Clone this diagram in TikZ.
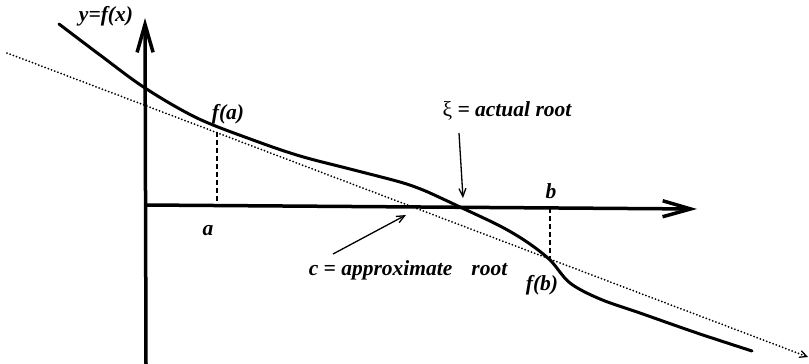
\documentclass[tikz,border=0pt]{standalone}
\usepackage{fontspec}
\setmainfont{Liberation Serif}
\usetikzlibrary{arrows.meta}
\tikzset{
  lbl/.style={font=\fontsize{21.5}{23}\selectfont\bfseries\itshape, inner sep=0pt, anchor=base},
  axis/.style={line width=3.5pt, -{Straight Barb[length=28pt,width=16pt,line width=3.5pt]}},
  curve/.style={line width=3pt, line cap=round},
  secant/.style={line width=2pt, line cap=round, dash pattern=on 0pt off 3.4pt, -{Straight Barb[length=7pt,width=7pt,line width=1.3pt]}},
  guide/.style={line width=1.5pt, dash pattern=on 5pt off 3pt},
  pointer/.style={line width=1.3pt, -{Straight Barb[length=8pt,width=7pt,line width=1.3pt]}}
}
\begin{document}
\begin{tikzpicture}[x=1pt,y=-1pt]
\useasboundingbox (0,0) rectangle (809,364);
% axes
\coordinate (ybot) at (146,364);
\coordinate (ytop) at (145,18);
\coordinate (xleft) at (145,205);
\coordinate (xright) at (697,209);
\draw[axis] (ybot) -- (ytop);
\draw[axis] (xleft) -- (xright);
% secant line
\coordinate (s0) at (7,53);
\coordinate (s1) at (808,357);
\draw[secant] (s0) -- (s1);
% curve
\draw[curve] plot[smooth, tension=0.55] coordinates {
 (59,24) (100,55) (145,88) (197,118) (253,140) (300,156) (350,169)
 (400,182) (423,190) (443,199) (460,207) (500,226) (527,242) (550,260)
 (570,283) (600,299) (640,313) (697,333) (752,351)};
% dashed guides
\coordinate (fa) at (217,132);
\coordinate (ax) at (217,205);
\coordinate (fb) at (550,258);
\coordinate (bx) at (550,208);
\draw[guide] (fa) -- (ax);
\draw[guide] (bx) -- (fb);
% labels
\node[lbl] (ylab) at (106,21) {y=f(x)};
\node[lbl] (falab) at (228,119) {f(a)};
\node[lbl] (xilab) at (507,116) {{\upshape\mdseries ξ} = actual root};
\node[lbl] (blab) at (551,198) {b};
\node[lbl] (alab) at (208,235) {a};
\node[lbl] (clab) at (408,275) {c = approximate\hspace{19pt}root};
\node[lbl] (fblab) at (542,290) {f(b)};
% pointers
\coordinate (xip0) at (459,133);
\coordinate (xip1) at (463,198);
\coordinate (cp0) at (333,254);
\coordinate (cp1) at (406,215);
\draw[pointer] (xip0) -- (xip1);
\draw[pointer] (cp0) -- (cp1);
\end{tikzpicture}
\end{document}
